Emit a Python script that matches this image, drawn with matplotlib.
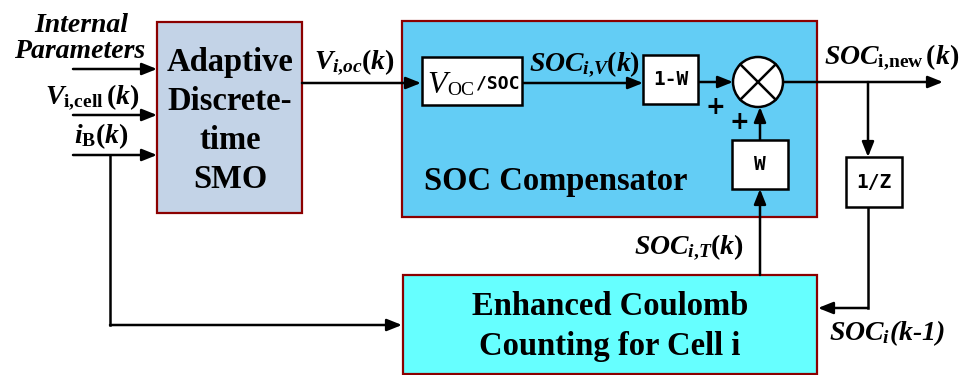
import matplotlib
matplotlib.use("Agg")
import matplotlib.pyplot as plt
from matplotlib.patches import Rectangle, Circle, FancyArrowPatch

plt.rcParams['mathtext.fontset'] = 'custom'
plt.rcParams['mathtext.rm'] = 'Liberation Serif:bold'
plt.rcParams['mathtext.bf'] = 'Liberation Serif:bold'
plt.rcParams['mathtext.it'] = 'Liberation Serif:italic:bold'
plt.rcParams['mathtext.default'] = 'it'

# ---- content ----
smo_lines = ["Adaptive", "Discrete-", "time", "SMO"]
comp_title = "SOC Compensator"
cc_lines = ["Enhanced Coulomb", "Counting for Cell i"]
input_labels = ["Internal", "Parameters"]
sig_vcell = r"$V_{\mathrm{i{,}cell}}\,(k)$"
sig_ib = r"$i_{\mathrm{B}}(k)$"
sig_voc = r"$V_{i{,}oc}(k)$"
sig_socv = r"$SOC_{i{,}V}(k)$"
sig_socnew = r"$SOC_{\mathrm{i{,}new}}\,(k)$"
sig_soct = r"$SOC_{i{,}T}(k)$"
sig_socprev = r"$SOC_{i}$(k-1)"
voc_parts = ["V", "OC", "/SOC"]
small_blocks = ["1-W", "W", "1/Z"]

# ---- geometry (pixels, y downward) ----
smo_box = (157, 22, 145, 191)
comp_box = (402, 21, 415, 196)
cc_box = (403, 275, 414, 99)
voc_box = (422, 57, 100, 48)
onew_box = (643, 55, 55, 49)
w_box = (732, 140, 56, 49)
z_box = (846, 157, 56, 50)
sum_c = (758, 82, 25)

C_SMO = "#C3D3E7"
C_COMP = "#63CDF5"
C_CC = "#66FFFF"
C_EDGE = "#8B0000"

fig = plt.figure(figsize=(9.62, 3.75), dpi=100)
ax = fig.add_axes([0, 0, 1, 1])
ax.set_xlim(0, 962)
ax.set_ylim(375, 0)
ax.axis('off')

def box(b, fc, ec, lw, z=1):
    x, y, w, h = b
    ax.add_patch(Rectangle((x, y), w, h, facecolor=fc, edgecolor=ec, lw=lw, zorder=z))

box(smo_box, C_SMO, C_EDGE, 1.6)
box(comp_box, C_COMP, C_EDGE, 1.6)
box(cc_box, C_CC, C_EDGE, 1.6)
for b in (voc_box, onew_box, w_box, z_box):
    box(b, "white", "black", 1.8, z=3)

cx, cy, r = sum_c
ax.add_patch(Circle((cx, cy), r, facecolor="white", edgecolor="black", lw=1.8, zorder=3))
d = r * 0.707
ax.plot([cx - d, cx + d], [cy - d, cy + d], color="black", lw=1.8, zorder=4)
ax.plot([cx - d, cx + d], [cy + d, cy - d], color="black", lw=1.8, zorder=4)

LW = 1.8
def arrow(pts):
    for (x0, y0), (x1, y1) in zip(pts[:-2], pts[1:-1]):
        ax.plot([x0, x1], [y0, y1], color="black", lw=LW, solid_capstyle='projecting', zorder=2)
    a = FancyArrowPatch(pts[-2], pts[-1], arrowstyle='-|>,head_length=0.9,head_width=0.36',
                        mutation_scale=10, lw=LW, color="black", shrinkA=0, shrinkB=0, zorder=2)
    ax.add_patch(a)

arrow([(73, 69), (157, 69)])
arrow([(73, 115), (157, 115)])
arrow([(73, 155), (157, 155)])
arrow([(110, 155), (110, 325), (402, 325)])
arrow([(302, 83), (421, 83)])
arrow([(522, 83), (643, 83)])
arrow([(698, 82), (733, 82)])
arrow([(760, 140), (760, 107)])
arrow([(760, 275), (760, 189)])
arrow([(783, 82), (943, 82)])
arrow([(868, 82), (868, 157)])
arrow([(868, 207), (868, 308), (818, 308)])

serif = "Liberation Serif"
BIG = 23.5
for txt, yb in zip(smo_lines, [71, 110, 149, 188]):
    ax.text(230, yb, txt, fontsize=BIG, fontweight='bold', family=serif, ha='center', va='baseline', zorder=5)
ax.text(556, 190, comp_title, fontsize=BIG, fontweight='bold', family=serif, ha='center', va='baseline', zorder=5)
for txt, yb in zip(cc_lines, [315, 355]):
    ax.text(610, yb, txt, fontsize=BIG, fontweight='bold', family=serif, ha='center', va='baseline', zorder=5)

LAB = 20
ax.text(81, 32, input_labels[0], fontsize=LAB, fontweight='bold', fontstyle='italic', family=serif, ha='center', va='baseline')
ax.text(80, 58, input_labels[1], fontsize=LAB, fontweight='bold', fontstyle='italic', family=serif, ha='center', va='baseline')
ax.text(92, 103, sig_vcell, fontsize=LAB, ha='center', va='baseline')
ax.text(101, 143, sig_ib, fontsize=LAB, ha='center', va='baseline')
ax.text(354, 68, sig_voc, fontsize=LAB, ha='center', va='baseline')
ax.text(585, 70, sig_socv, fontsize=LAB, ha='center', va='baseline', zorder=5)
ax.text(892, 63, sig_socnew, fontsize=LAB, ha='center', va='baseline')
ax.text(689, 253, sig_soct, fontsize=LAB, ha='center', va='baseline')
ax.text(887, 340, sig_socprev, fontsize=LAB, fontweight='bold', fontstyle='italic', family=serif,
        ha='center', va='baseline')

# V_OC / SOC block
ax.text(427, 93, voc_parts[0], fontsize=23, fontstyle='italic', family=serif, ha='left', va='baseline', zorder=5)
ax.text(447, 95, voc_parts[1], fontsize=14, family=serif, ha='left', va='baseline', zorder=5)
ax.text(498, 84, voc_parts[2], fontsize=13, fontweight='bold', family="DejaVu Sans Mono", ha='center', va='center', zorder=5)

mono = dict(fontsize=14, fontweight='bold', family="DejaVu Sans Mono", ha='center', va='center', zorder=5)
for txt, b in zip(small_blocks, (onew_box, w_box, z_box)):
    x, y, w, h = b
    ax.text(x + w / 2, y + h / 2, txt, **mono)

ax.text(715, 107, "+", fontsize=17, fontweight='bold', family="DejaVu Sans", ha='center', va='center')
ax.text(739, 122, "+", fontsize=17, fontweight='bold', family="DejaVu Sans", ha='center', va='center')

fig.savefig("out.png", dpi=100)
